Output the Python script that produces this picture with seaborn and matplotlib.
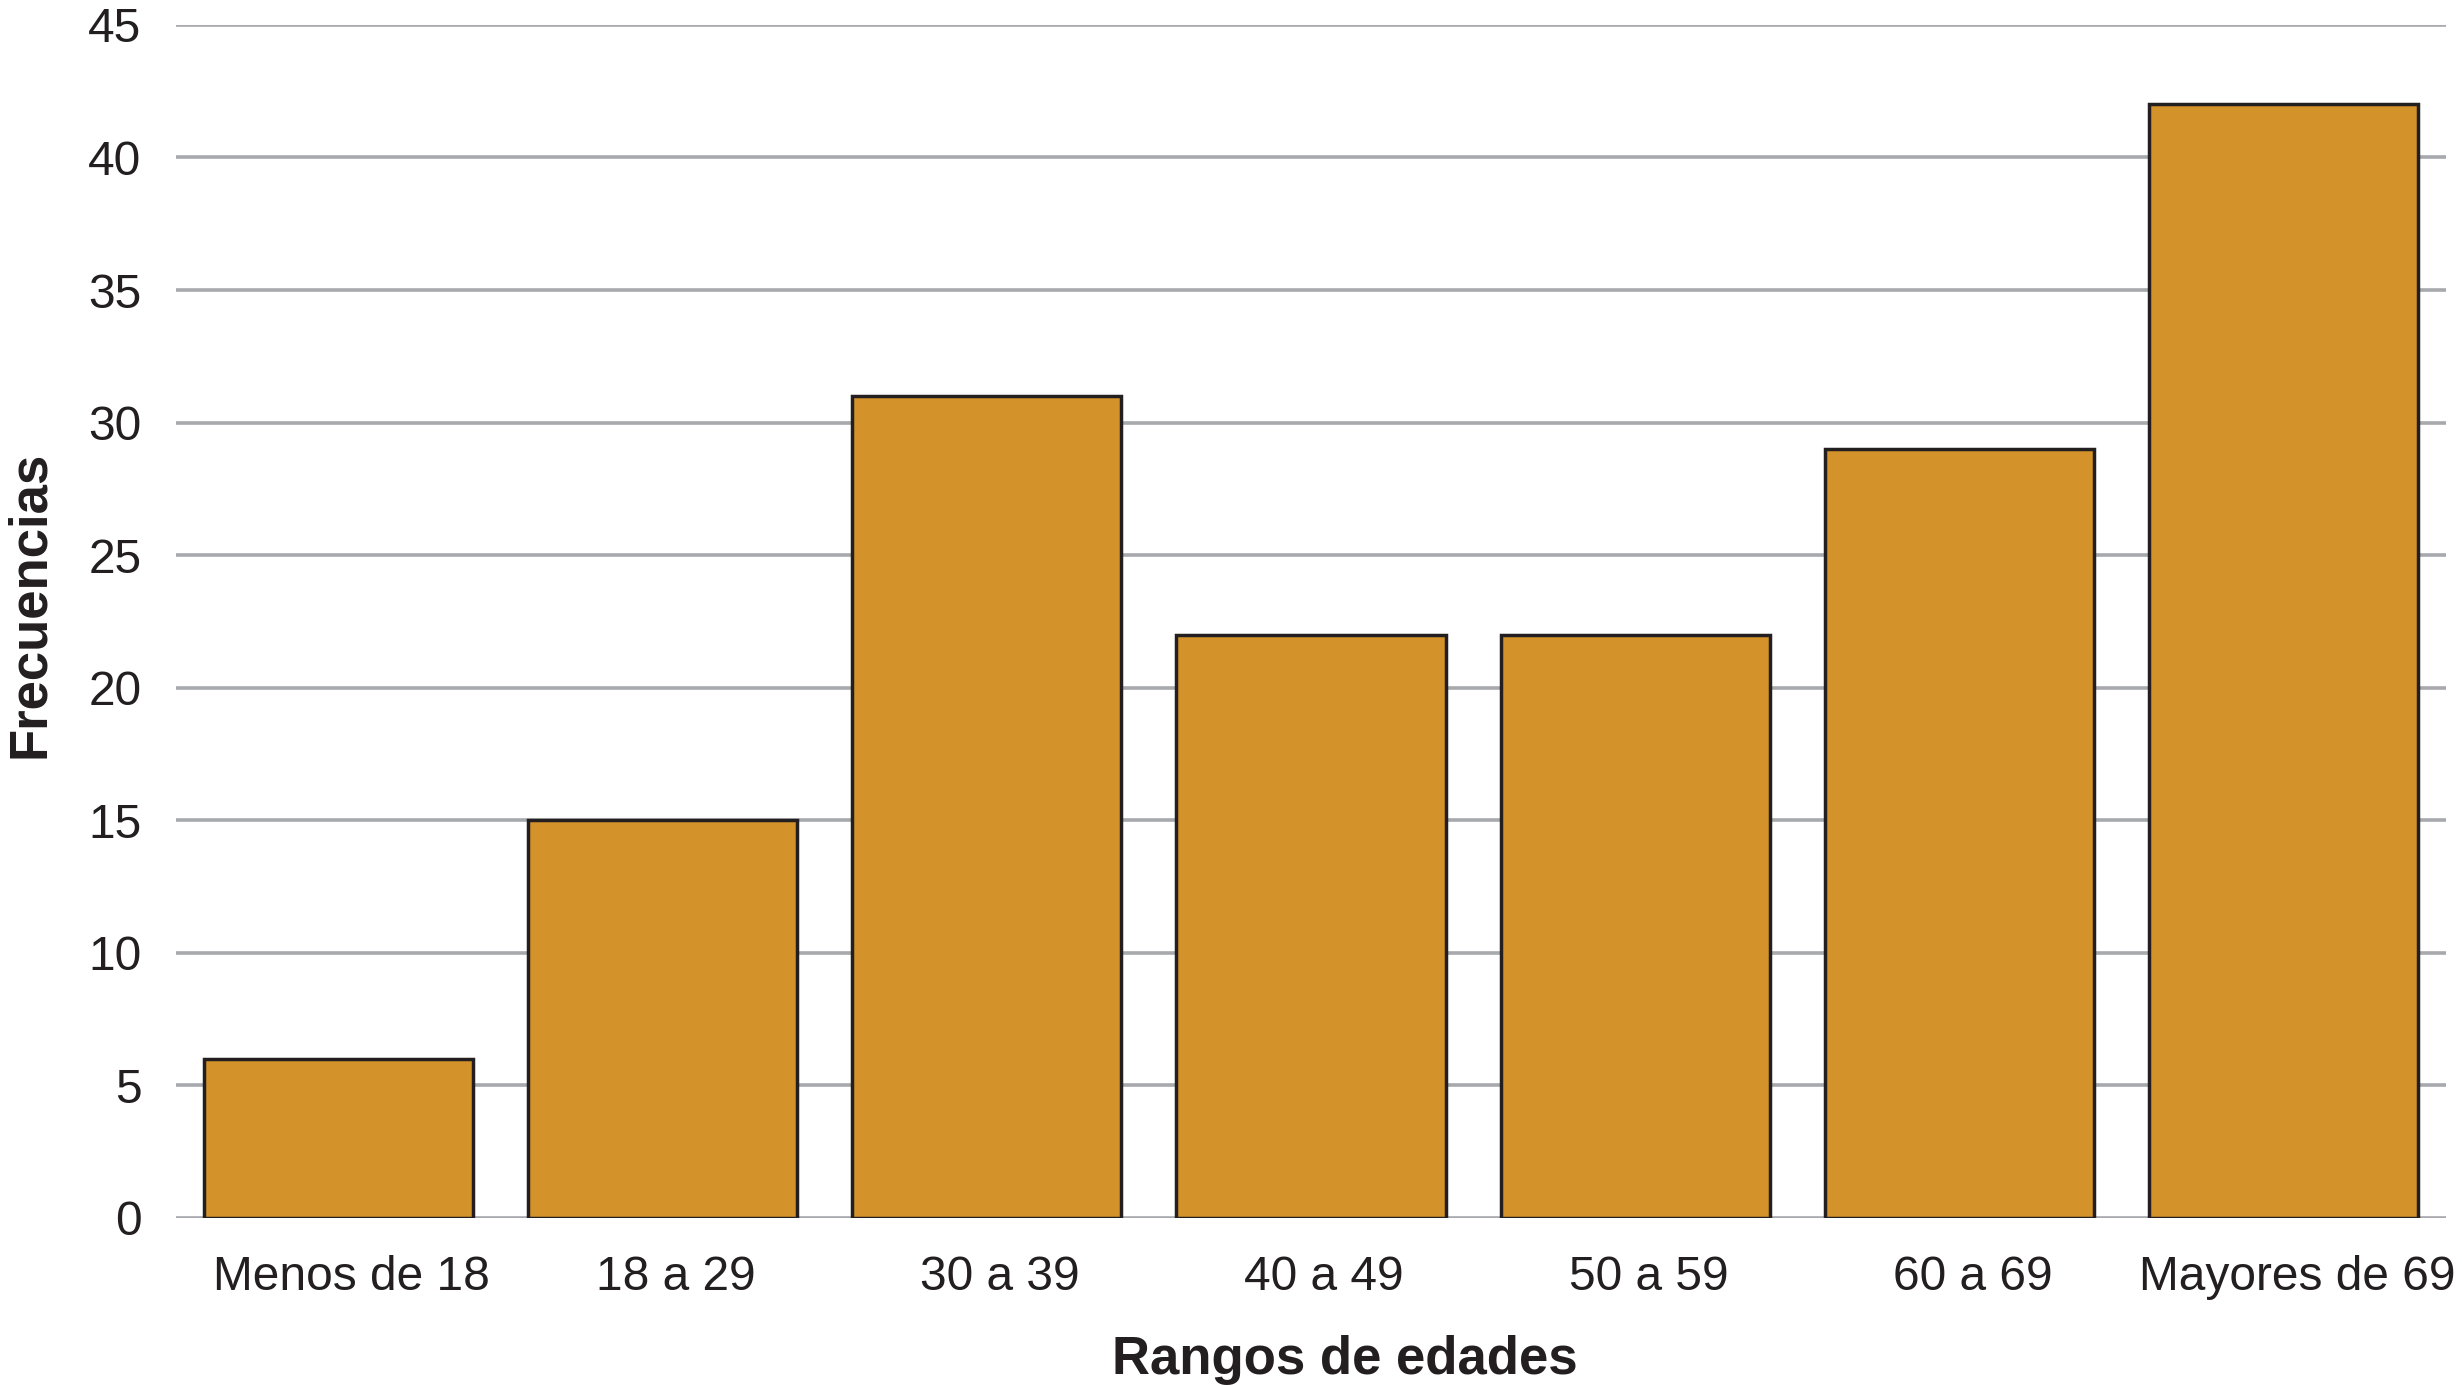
import pandas as pd
import seaborn as sns
import matplotlib.pyplot as plt
import matplotlib.transforms as mtransforms

# Frecuencias por rango de edad
rangos = ["Menos de 18", "18 a 29", "30 a 39", "40 a 49", "50 a 59", "60 a 69", "Mayores de 69"]
frecuencias = [6, 15, 31, 22, 22, 29, 42]

df = pd.DataFrame({"rango": rangos, "frecuencia": frecuencias})

sns.set_style("white")
plt.rcParams['font.family'] = ['Liberation Sans', 'DejaVu Sans']

fig = plt.figure(figsize=(24.62, 13.85), dpi=100)
ax = fig.add_axes([0.0715, 0.1206, 0.922, 0.8614])

sns.barplot(data=df, x="rango", y="frecuencia", color="#d4922b", saturation=1,
            width=0.83, edgecolor="#231f20", linewidth=2.5, ax=ax)

ax.set_ylim(0, 45)
ax.set_xlim(-0.5, 6.5)
ax.set_yticks(range(0, 46, 5))
ax.yaxis.grid(True, color="#a7a9ac", linewidth=2.6)
ax.set_axisbelow(True)
for s in ax.spines.values():
    s.set_visible(False)
ax.tick_params(axis="both", length=0, labelsize=34.5, colors="#231f20")
ax.tick_params(axis="x", pad=27)
ax.tick_params(axis="y", pad=25)

# labels of the x axis sit a little to the right of the bars in the original
shift = mtransforms.ScaledTranslation(9.5 / 72, 0, fig.dpi_scale_trans)
for lbl in ax.get_xticklabels():
    lbl.set_transform(lbl.get_transform() + shift)

ax.set_xlabel("Rangos de edades", fontsize=38, fontweight="bold", color="#231f20")
ax.set_ylabel("Frecuencias", fontsize=38, fontweight="bold", color="#231f20", labelpad=24)
ax.xaxis.set_label_coords(0.515, -0.098)
ax.yaxis.label.set_y(0.514)

fig.savefig("out.png", dpi=100)
